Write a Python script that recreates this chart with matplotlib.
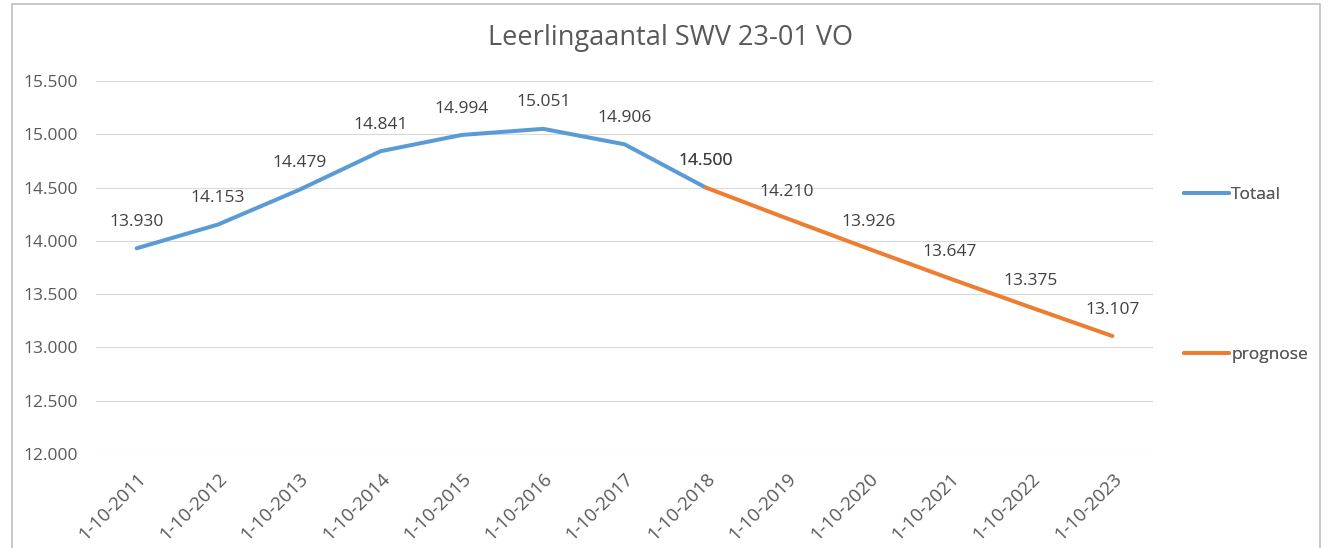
import numpy as np
import matplotlib.pyplot as plt
from matplotlib.patches import Rectangle

plt.rcParams['font.family'] = ['Open Sans', 'DejaVu Sans']

# Data
datums = ['1-10-2011', '1-10-2012', '1-10-2013', '1-10-2014', '1-10-2015',
          '1-10-2016', '1-10-2017', '1-10-2018', '1-10-2019', '1-10-2020',
          '1-10-2021', '1-10-2022', '1-10-2023']
totaal = [13930, 14153, 14479, 14841, 14994, 15051, 14906, 14500,
          None, None, None, None, None]
prognose = [None, None, None, None, None, None, None, 14500,
            14210, 13926, 13647, 13375, 13107]

blauw = '#5b9bd5'
oranje = '#ed7d31'
grijs = '#595959'

def fmt(v):
    return f'{v:,.0f}'.replace(',', '.')

fig = plt.figure(figsize=(13.28, 5.48), dpi=100)
W, H = 1328, 548
ax = fig.add_axes([96 / W, 1 - 454 / H, (1153 - 96) / W, (454 - 81) / H])

x = np.arange(len(datums))
t = np.array([np.nan if v is None else v for v in totaal], dtype=float)
p = np.array([np.nan if v is None else v for v in prognose], dtype=float)

lt, = ax.plot(x, t, color=blauw, lw=2.9, solid_capstyle='round', label='Totaal', zorder=3)
lp, = ax.plot(x, p, color=oranje, lw=2.9, solid_capstyle='round', label='prognose', zorder=3)

# datalabels boven de punten
for serie in (t, p):
    for xi, v in zip(x, serie):
        if not np.isnan(v):
            ax.annotate(fmt(v), (xi, v), xytext=(0, 19), textcoords='offset points',
                        ha='center', va='center', fontsize=12.5, color='#404040')

ax.set_xlim(-0.5, len(datums) - 0.5)
ax.set_ylim(12000, 15500)
ax.set_yticks(np.arange(12000, 15501, 500))
ax.set_yticklabels([fmt(v) for v in np.arange(12000, 15501, 500)])
ax.set_xticks(x)
ax.set_xticklabels(datums, rotation=45, ha='right', rotation_mode='anchor')
ax.tick_params(axis='y', length=0, colors=grijs, labelsize=12.5, pad=13)
ax.tick_params(axis='x', length=0, colors=grijs, labelsize=13.5, pad=11)
ax.grid(axis='y', color='#d9d9d9', lw=0.8)
for s in ax.spines.values():
    s.set_visible(False)

fig.text(671 / W, 1 - 38 / H, 'Leerlingaantal SWV 23-01 VO', ha='center', va='center',
         fontsize=19.5, color=grijs)

# legenda rechts, twee losse items
for lijn, ypix in ((lt, 195), (lp, 355)):
    leg = fig.legend(handles=[lijn], loc='center left', bbox_to_anchor=(1168 / W, 1 - ypix / H),
                     frameon=False, fontsize=12.5, labelcolor=grijs, handlelength=2.6,
                     handletextpad=0.15)
    fig.add_artist(leg)

fig.add_artist(Rectangle((12 / W, -0.01), (1320 - 12) / W, 1 - 4 / H + 0.01,
                         transform=fig.transFigure, fill=False, ec='#bfbfbf', lw=1.2))

fig.savefig('out.png', dpi=100)
